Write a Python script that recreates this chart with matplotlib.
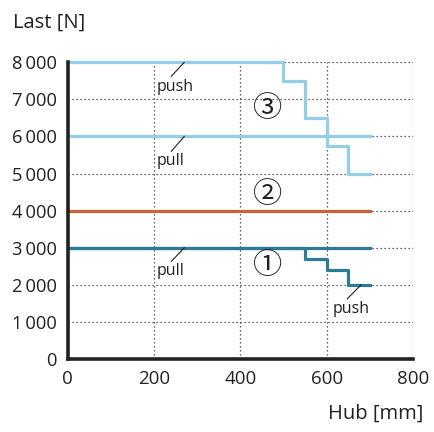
import matplotlib.pyplot as plt
from matplotlib.ticker import FuncFormatter

# data
hub_ticks = [0, 200, 400, 600, 800]
last_ticks = [0, 1000, 2000, 3000, 4000, 5000, 6000, 7000, 8000]

s3_push_x = [0, 500, 550, 600, 650, 700]
s3_push_y = [8000, 7500, 6500, 5750, 5000, 5000]
s3_pull_x = [0, 700]
s3_pull_y = [6000, 6000]

s2_x = [0, 700]
s2_y = [4000, 4000]

s1_pull_x = [0, 700]
s1_pull_y = [3000, 3000]
s1_push_x = [0, 550, 600, 650, 700]
s1_push_y = [3000, 2700, 2400, 2000, 2000]

light_blue = '#94cde9'
teal = '#2f7b95'
orange = '#c9623c'

fonts = ['Open Sans', 'Noto Sans CJK JP', 'DejaVu Sans']
plt.rcParams['font.family'] = fonts

fig = plt.figure(figsize=(4.35, 4.32), dpi=100)
ax = fig.add_axes([0.156, 0.169, 0.793, 0.687])

lw = 2.3
ax.plot(s3_pull_x, s3_pull_y, color=light_blue, lw=lw, clip_on=False, zorder=3)
ax.plot(s3_push_x, s3_push_y, color=light_blue, lw=lw, drawstyle='steps-post',
        clip_on=False, zorder=3)
ax.plot(s2_x, s2_y, color=orange, lw=lw, clip_on=False, zorder=3)
ax.plot(s1_pull_x, s1_pull_y, color=teal, lw=lw, clip_on=False, zorder=3)
ax.plot(s1_push_x, s1_push_y, color=teal, lw=lw, drawstyle='steps-post',
        clip_on=False, zorder=3)

ax.set_xlim(0, 800)
ax.set_ylim(0, 8000)
ax.set_xticks(hub_ticks)
ax.set_yticks(last_ticks)
ax.yaxis.set_major_formatter(FuncFormatter(lambda v, p: f"{int(v):,}".replace(',', '\u2009')))
ax.tick_params(axis='x', length=0, labelsize=13.5, colors='#222222', pad=8)
ax.tick_params(axis='y', length=0, labelsize=13.2, colors='#222222', pad=8)
ax.grid(True, linestyle=(0, (1, 2.2)), color='#333333', linewidth=0.9)
ax.set_axisbelow(True)

for s in ['top', 'right']:
    ax.spines[s].set_visible(False)
for s in ['left', 'bottom']:
    ax.spines[s].set_linewidth(2.6)
    ax.spines[s].set_color('#222222')
    ax.spines[s].set_zorder(4)

# leader labels
def leader(x0, y0, x1, y1, tx, ty, txt):
    ax.plot([x0, x1], [y0, y1], color='#222222', lw=0.8, zorder=4)
    ax.text(tx, ty, txt, fontsize=11.5, color='#222222', ha='left', va='center')

leader(270, 8000, 240, 7620, 206, 7330, 'push')
leader(270, 6000, 240, 5600, 206, 5330, 'pull')
leader(270, 3000, 240, 2630, 206, 2370, 'pull')
leader(680, 2000, 648, 1620, 613, 1340, 'push')

for y, t in [(6720, '\u2462'), (4420, '\u2461'), (2490, '\u2460')]:
    ax.text(463, y, t, fontsize=21, ha='center', va='center', color='#222222')

fig.text(0.03, 0.947, 'Last [N]', fontsize=14.5, color='#222222', ha='left', va='center')
fig.text(0.973, 0.043, 'Hub [mm]', fontsize=14.5, color='#222222', ha='right', va='center')

fig.savefig('out.png', dpi=100)
